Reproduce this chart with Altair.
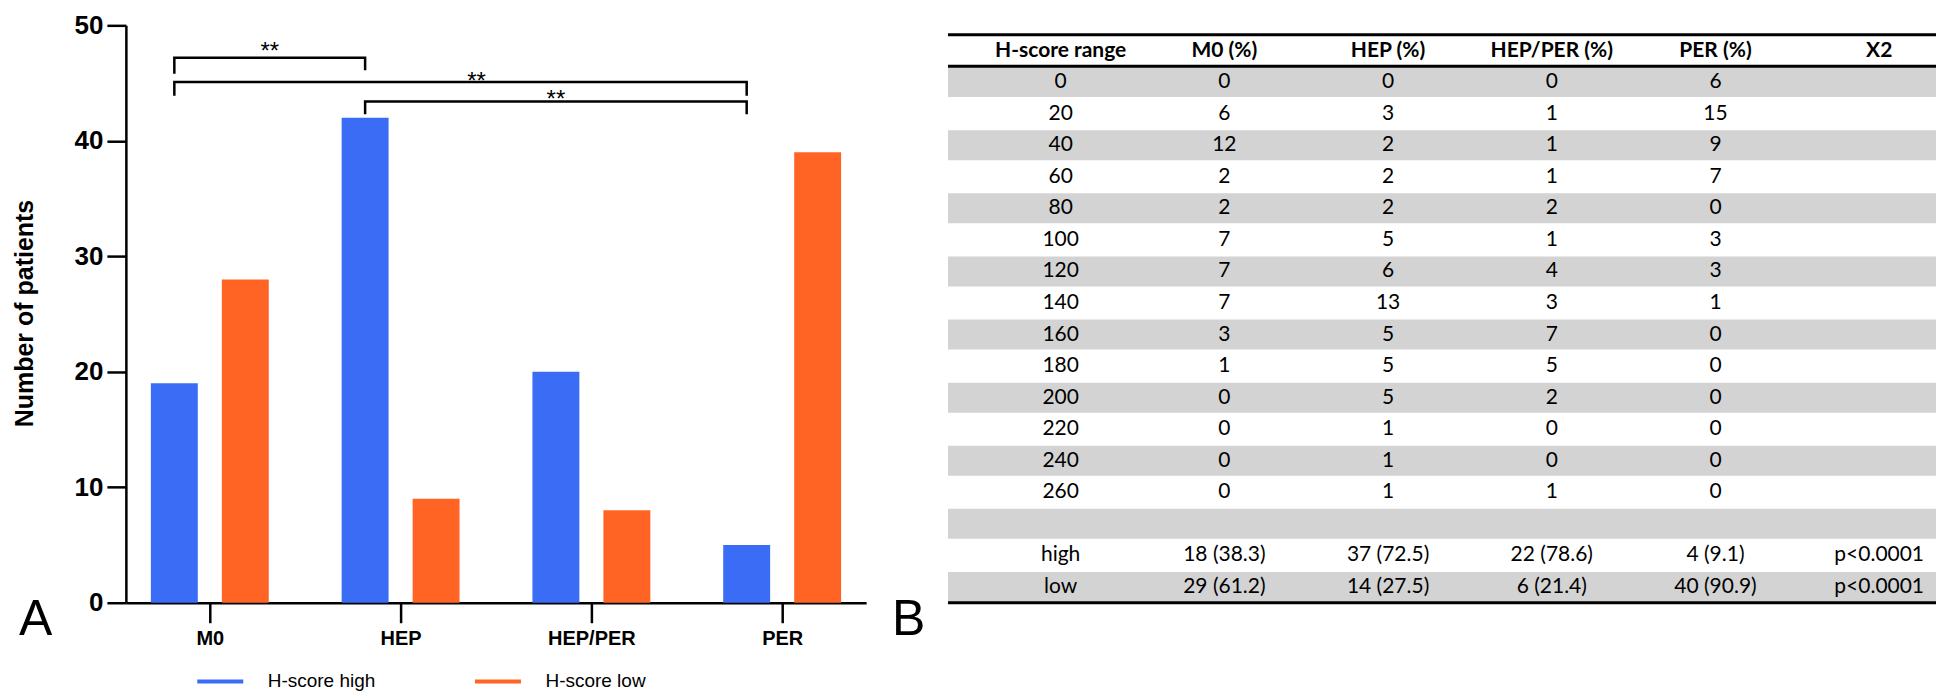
import json
import altair as alt
import pandas as pd

# ---------------- data ----------------
categories = ["M0", "HEP", "HEP/PER", "PER"]
groups = ["H-score high", "H-score low"]
high_counts = [19, 42, 20, 5]
low_counts = [28, 9, 8, 39]
y_ticks = [0, 10, 20, 30, 40, 50]

# significance brackets (between the "high" bars of two categories)
bracket_from = ["M0", "M0", "HEP"]
bracket_to = ["HEP", "PER", "PER"]
bracket_top = [47.2, 45.1, 43.4]
bracket_end_from = [45.8, 43.9, 42.3]
bracket_end_to = [46.1, 43.9, 42.3]
bracket_text = ["**", "**", "**"]
bracket_text_y = [47.1, 44.5, 42.9]

# table (panel B)
table_header = ["H-score range", "M0 (%)", "HEP (%)", "HEP/PER (%)", "PER (%)", "X2"]
hscore_ranges = ["0", "20", "40", "60", "80", "100", "120", "140",
                 "160", "180", "200", "220", "240", "260"]
m0_pct = [0, 6, 12, 2, 2, 7, 7, 7, 3, 1, 0, 0, 0, 0]
hep_pct = [0, 3, 2, 2, 2, 5, 6, 13, 5, 5, 5, 1, 1, 1]
hepper_pct = [0, 1, 1, 1, 2, 1, 4, 3, 7, 5, 2, 0, 0, 1]
per_pct = [6, 15, 9, 7, 0, 3, 3, 1, 0, 0, 0, 0, 0, 0]
summary_labels = ["high", "low"]
summary_m0 = ["18 (38.3)", "29 (61.2)"]
summary_hep = ["37 (72.5)", "14 (27.5)"]
summary_hepper = ["22 (78.6)", "6 (21.4)"]
summary_per = ["4 (9.1)", "40 (90.9)"]
summary_x2 = ["p<0.0001", "p<0.0001"]

# ---------------- styles / layout ----------------
BLUE = "#3A6CF5"
ORANGE = "#FF6424"
GRAY = "#D3D3D3"
AX_FONT = "Liberation Sans"
TB_FONT = "Lato"
PLOT_W, PLOT_H = 741, 578
TABLE_W, TABLE_H = 989, 578
OFF = 0.186      # half distance between the two bars of a group (x units)
HW = 0.123       # half bar width (x units)
STAR_SHIFT = [0.0, 0.084, 0.0]   # horizontal nudge of the "**" labels (x units)

# ---------------- panel A ----------------
n_cat = len(categories)
df_bars = pd.DataFrame({
    "category": categories * 2,
    "idx": list(range(n_cat)) * 2,
    "group": [groups[0]] * n_cat + [groups[1]] * n_cat,
    "count": high_counts + low_counts,
})

x_scale = alt.Scale(domain=[-0.44, n_cat - 1 + 0.44], nice=False, zero=False)
y_scale = alt.Scale(domain=[y_ticks[0], y_ticks[-1]], nice=False)

x_axis = alt.Axis(
    values=list(range(n_cat)), labelExpr=f"{json.dumps(categories)}[datum.value]",
    title=None, grid=False, domainColor="black", domainWidth=2.5,
    tickColor="black", tickWidth=2.5, tickSize=20,
    labelFont=AX_FONT, labelFontSize=20, labelFontWeight="bold", labelColor="black",
    labelPadding=6, labelFlush=False,
)
y_axis = alt.Axis(
    values=y_ticks, title="Number of patients", grid=False,
    domainColor="black", domainWidth=2.5, tickColor="black", tickWidth=2.5, tickSize=19,
    labelFont=AX_FONT, labelFontSize=26, labelFontWeight="bold", labelColor="black",
    labelPadding=4, labelFlush=False,
    titleFont=AX_FONT, titleFontSize=25, titleFontWeight="bold", titleColor="black",
    titleAngle=270, titleAlign="center", titleBaseline="middle",
    titleX=-101.5, titleY=288,
)
legend = alt.Legend(
    title=None, orient="none", legendX=85, legendY=647, direction="horizontal",
    symbolType="M-23,-2H23V2H-23Z", symbolSize=4, symbolStrokeWidth=0, symbolOpacity=1,
    labelFont=AX_FONT, labelFontSize=19, labelColor="black",
    labelOffset=38, columnPadding=99, padding=0,
)

bars = (
    alt.Chart(df_bars)
    .transform_calculate(xc=f"datum.idx + (datum.group === {json.dumps(groups[0])} ? {-OFF} : {OFF})")
    .transform_calculate(x0=f"datum.xc - {HW}", x1=f"datum.xc + {HW}")
    .mark_bar()
    .encode(
        x=alt.X("x0:Q", scale=x_scale, axis=x_axis),
        x2="x1:Q",
        y=alt.Y("count:Q", scale=y_scale, axis=y_axis),
        y2=alt.datum(0),
        color=alt.Color("group:N", scale=alt.Scale(domain=groups, range=[BLUE, ORANGE]), legend=legend),
    )
)

pts = []
stars = []
for k in range(len(bracket_from)):
    a = categories.index(bracket_from[k]) - OFF
    b = categories.index(bracket_to[k]) - OFF
    for s, (bx, by) in enumerate([(a, bracket_end_from[k]), (a, bracket_top[k]),
                                  (b, bracket_top[k]), (b, bracket_end_to[k])]):
        pts.append({"bracket": k, "seq": s, "bx": bx, "by": by})
    stars.append({"tx": (a + b) / 2 + STAR_SHIFT[k], "ty": bracket_text_y[k], "t": bracket_text[k]})

brackets = alt.Chart(pd.DataFrame(pts)).mark_line(
    color="black", strokeWidth=2.5, strokeCap="butt", strokeJoin="miter"
).encode(
    x=alt.X("bx:Q", scale=x_scale, axis=x_axis),
    y=alt.Y("by:Q", scale=y_scale, axis=y_axis),
    detail="bracket:N",
    order="seq:Q",
)

star_text = alt.Chart(pd.DataFrame(stars)).mark_text(
    font=AX_FONT, fontSize=24, align="center", baseline="alphabetic", color="black"
).encode(
    x=alt.X("tx:Q", scale=x_scale, axis=x_axis),
    y=alt.Y("ty:Q", scale=y_scale, axis=y_axis),
    text="t:N",
)

label_a = alt.Chart(pd.DataFrame({"p": ["A"]})).mark_text(
    font=AX_FONT, fontSize=50, align="left", baseline="alphabetic", color="black"
).encode(x=alt.value(-107), y=alt.value(610), text="p:N")

panel_a = alt.layer(bars, brackets, star_text, label_a).properties(width=PLOT_W, height=PLOT_H)

# ---------------- panel B (table) ----------------
n_data = len(hscore_ranges)
header_row = -1
summary_rows = [n_data + 1 + i for i in range(len(summary_labels))]
last_row = summary_rows[-1]

cells = []
for c, h in enumerate(table_header):
    cells.append({"col": c, "row": header_row, "txt": h})
body_cols = [hscore_ranges, m0_pct, hep_pct, hepper_pct, per_pct]
for r in range(n_data):
    for c, col in enumerate(body_cols):
        cells.append({"col": c, "row": r, "txt": str(col[r])})
sum_cols = [summary_labels, summary_m0, summary_hep, summary_hepper, summary_per, summary_x2]
for i, r in enumerate(summary_rows):
    for c, col in enumerate(sum_cols):
        cells.append({"col": c, "row": r, "txt": col[i]})
df_cells = pd.DataFrame(cells)

tx_scale = alt.Scale(domain=[-0.688, 5.347], nice=False, zero=False)
ty_scale = alt.Scale(domain=[-1.8, 16.5], nice=False, zero=False, reverse=True)

stripe_rows = [r for r in range(last_row + 1) if r % 2 == 0]
df_stripes = pd.DataFrame({"r": stripe_rows})
stripes = alt.Chart(df_stripes).transform_calculate(
    r0="datum.r - 0.475", r1="datum.r + 0.475"
).mark_rect(color=GRAY).encode(
    y=alt.Y("r0:Q", scale=ty_scale, axis=None),
    y2="r1:Q",
    x=alt.value(0),
    x2=alt.value("width"),
)

df_rules = pd.DataFrame({"r": [header_row - 0.5, header_row + 0.5, last_row + 0.5]})
rules = alt.Chart(df_rules).mark_rule(color="black", strokeWidth=3).encode(
    y=alt.Y("r:Q", scale=ty_scale, axis=None),
    x=alt.value(0),
    x2=alt.value("width"),
)

header_text = alt.Chart(df_cells).transform_filter(f"datum.row === {header_row}").mark_text(
    font=TB_FONT, fontSize=21, fontWeight="bold", align="center", baseline="middle", color="black"
).encode(
    x=alt.X("col:Q", scale=tx_scale, axis=None),
    y=alt.Y("row:Q", scale=ty_scale, axis=None),
    text="txt:N",
)
body_text = alt.Chart(df_cells).transform_filter(f"datum.row !== {header_row}").mark_text(
    font=TB_FONT, fontSize=21, align="center", baseline="middle", color="black"
).encode(
    x=alt.X("col:Q", scale=tx_scale, axis=None),
    y=alt.Y("row:Q", scale=ty_scale, axis=None),
    text="txt:N",
)

label_b = alt.Chart(pd.DataFrame({"p": ["B"]})).mark_text(
    font=AX_FONT, fontSize=50, align="left", baseline="alphabetic", color="black"
).encode(x=alt.value(-56), y=alt.value(610), text="p:N")

panel_b = alt.layer(stripes, rules, header_text, body_text, label_b).properties(
    width=TABLE_W, height=TABLE_H
)

chart = (
    alt.hconcat(panel_a, panel_b, spacing=82, bounds="flush")
    .properties(padding={"left": 4, "top": 4, "right": 0, "bottom": 0})
    .configure_view(strokeWidth=0)
)

chart.save("out.html", embed_options={"renderer": "svg", "actions": False})
